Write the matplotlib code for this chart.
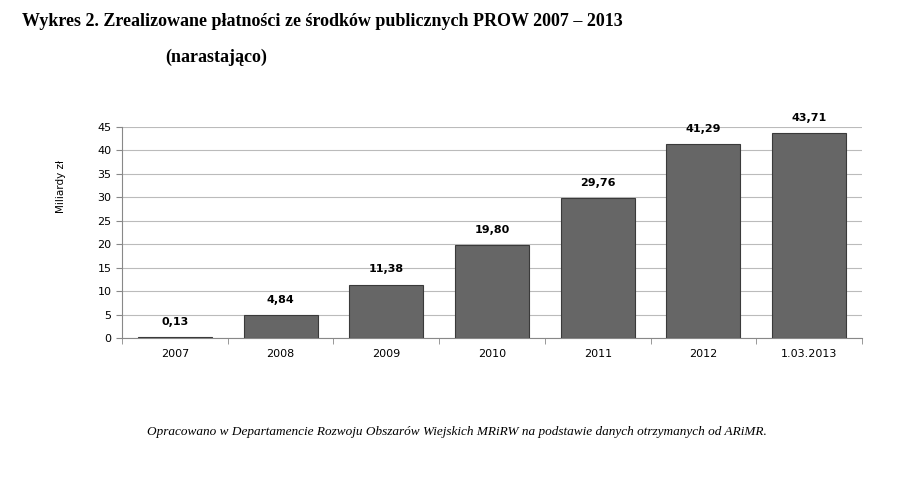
import matplotlib
matplotlib.use("Agg")
import matplotlib.pyplot as plt
import numpy as np

categories = ["2007", "2008", "2009", "2010", "2011", "2012", "1.03.2013"]
values = [0.13, 4.84, 11.38, 19.80, 29.76, 41.29, 43.71]
labels = ["0,13", "4,84", "11,38", "19,80", "29,76", "41,29", "43,71"]
yticks = [0, 5, 10, 15, 20, 25, 30, 35, 40, 45]

fig = plt.figure(figsize=(8.98, 4.91), dpi=100)
ax = fig.add_axes([122/898, 1-338/491, 740/898, 211/491])
x = np.arange(len(categories))
ax.bar(x, values, width=0.7, color="#666666", edgecolor="#3a3a3a", linewidth=0.8, zorder=3)
for xi, v, l in zip(x, values, labels):
    ax.text(xi, v + 2.2, l, ha="center", va="bottom", fontsize=8, fontweight="bold", family="DejaVu Sans")
ax.set_xlim(-0.5, len(categories) - 0.5)
ax.set_ylim(0, 45)
ax.set_yticks(yticks)
ax.set_yticklabels([str(t) for t in yticks], fontsize=8)
ax.set_xticks(x)
ax.set_xticklabels(categories, fontsize=8)
ax.set_xticks(np.arange(len(categories) + 1) - 0.5, minor=True)
ax.tick_params(axis="x", which="major", length=0, pad=8)
ax.tick_params(axis="x", which="minor", length=4, color="#888888")
ax.tick_params(axis="y", length=4, color="#888888")
ax.yaxis.grid(True, color="#bbbbbb", linewidth=0.8, zorder=0)
for s in ["top", "right"]:
    ax.spines[s].set_visible(False)
for s in ["left", "bottom"]:
    ax.spines[s].set_color("#888888")
ax.set_ylabel("Miliardy zł", fontsize=7.5)
ax.yaxis.set_label_coords(-0.075, 0.72)

fig.text(22/898, 1-22/491, "Wykres 2. Zrealizowane płatności ze środków publicznych PROW 2007 – 2013",
         fontsize=13, fontweight="bold", family="Liberation Serif", va="center", ha="left")
fig.text(165/898, 1-57/491, "(narastająco)", fontsize=13, fontweight="bold",
         family="Liberation Serif", va="center", ha="left")
fig.text(457/898, 1-432/491,
         "Opracowano w Departamencie Rozwoju Obszarów Wiejskich MRiRW na podstawie danych otrzymanych od ARiMR.",
         fontsize=9.5, style="italic", family="Liberation Serif", va="center", ha="center")
fig.savefig("out.png", dpi=100)
